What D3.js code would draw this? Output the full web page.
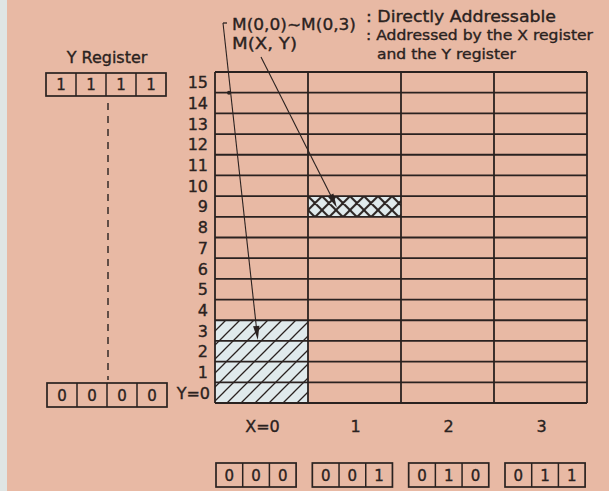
<!DOCTYPE html>
<html><head><meta charset="utf-8">
<script src="https://cdn.jsdelivr.net/npm/d3@7"></script>
<style>html,body{margin:0;padding:0;background:#e8b9a4;}svg{display:block;}text{stroke:#2a2220;stroke-width:0.35px;}</style>
</head><body>
<svg id="c" width="609" height="491"></svg>
<script>
// ---- data ----
const yLabels = ["Y=0","1","2","3","4","5","6","7","8","9","10","11","12","13","14","15"];
const xLabels = ["X=0","1","2","3"];
const xCodes = ["000","001","010","011"];
const yRegTop = ["1","1","1","1"];
const yRegBottom = ["0","0","0","0"];
const directCells = [{x:0,y:0},{x:0,y:1},{x:0,y:2},{x:0,y:3}];
const indirectCells = [{x:1,y:9}];
const legendMarks = ["M(0,0)~M(0,3)", "M(X, Y)"];
const legendText = [[": Directly Addressable"], [": Addressed by the X register", "and the Y register"]];
// arrow targets in data units (column, row)
const arrowTargets = [{x:0.46,y:3.05},{x:1.31,y:9.45}];

// ---- drawing ----
const svg = d3.select("#c");
const ink = "#2a2220";
const font = "DejaVu Sans";
svg.append("rect").attr("width",609).attr("height",491).attr("fill","#e8b9a4");
svg.append("rect").attr("width",7).attr("height",491).attr("fill","#dfe5e4");

const x = d3.scaleLinear().domain([0,4]).range([215,587]);
const y = d3.scaleLinear().domain([0,16]).range([403,72]);

const defs = svg.append("defs");
const p1 = defs.append("pattern").attr("id","diag").attr("patternUnits","userSpaceOnUse")
  .attr("width",14).attr("height",14);
p1.append("rect").attr("width",14).attr("height",14).attr("fill","#e0eaec");
p1.append("path").attr("d","M0,14L14,0M-3.5,3.5L3.5,-3.5M10.5,17.5L17.5,10.5")
  .attr("stroke",ink).attr("stroke-width",1.3);
const p2 = defs.append("pattern").attr("id","cross").attr("patternUnits","userSpaceOnUse")
  .attr("width",14).attr("height",14).attr("x",x(1)).attr("y",y(10));
p2.append("rect").attr("width",14).attr("height",14).attr("fill","#e0eaec");
p2.append("path").attr("d","M0,14L14,0M-3.5,3.5L3.5,-3.5M10.5,17.5L17.5,10.5M0,0L14,14M-3.5,10.5L3.5,17.5M10.5,-3.5L17.5,3.5")
  .attr("stroke",ink).attr("stroke-width",2);

const rowH = y(0)-y(1), colW = x(1)-x(0);
svg.selectAll("rect.dc").data(directCells).join("rect").attr("class","dc")
  .attr("x",d=>x(d.x)).attr("y",d=>y(d.y+1)).attr("width",colW).attr("height",rowH)
  .attr("fill","url(#diag)");
svg.selectAll("rect.ic").data(indirectCells).join("rect").attr("class","ic")
  .attr("x",d=>x(d.x)).attr("y",d=>y(d.y+1)).attr("width",colW).attr("height",rowH)
  .attr("fill","url(#cross)");

// grid
const g = svg.append("g").attr("stroke",ink).attr("stroke-width",1.8);
g.selectAll("line.h").data(d3.range(17)).join("line")
  .attr("x1",x(0)).attr("x2",x(4)).attr("y1",d=>y(d)).attr("y2",d=>y(d));
g.selectAll("line.v").data(d3.range(5)).join("line")
  .attr("x1",d=>x(d)).attr("x2",d=>x(d)).attr("y1",y(0)).attr("y2",y(16));

// y labels
svg.selectAll("text.yl").data(yLabels).join("text")
  .attr("x",(d,i)=>i===0?210:208).attr("y",(d,i)=>y(i+0.5)+6)
  .attr("text-anchor","end").attr("font-family",font).attr("font-size",16).attr("fill",ink)
  .text(d=>d);
// x labels
svg.selectAll("text.xl").data(xLabels).join("text")
  .attr("x",(d,i)=>x(i+0.5)+1).attr("y",432)
  .attr("text-anchor","middle").attr("font-family",font).attr("font-size",16).attr("fill",ink)
  .text(d=>d);

// register boxes
function regBox(bits, x0, y0, cw, h, fs){
  const gg = svg.append("g");
  gg.append("rect").attr("x",x0).attr("y",y0).attr("width",cw*bits.length).attr("height",h)
    .attr("fill","none").attr("stroke",ink).attr("stroke-width",1.7);
  gg.selectAll("line").data(d3.range(1,bits.length)).join("line")
    .attr("x1",i=>x0+i*cw).attr("x2",i=>x0+i*cw).attr("y1",y0).attr("y2",y0+h)
    .attr("stroke",ink).attr("stroke-width",1.5);
  gg.selectAll("text").data(bits).join("text")
    .attr("x",(d,i)=>x0+(i+0.5)*cw).attr("y",y0+h/2+5.5).attr("text-anchor","middle")
    .attr("font-family",font).attr("font-size",15).attr("fill",ink).text(d=>d);
}
const bx = d3.scaleLinear().domain([0,3]).range([216,505]);
xCodes.forEach((c,i)=>regBox(c.split(""), bx(i), 463, 26.7, 24, 15));
regBox(yRegTop, 46, 73, 30, 23, 15);
regBox(yRegBottom, 47, 383, 30, 24, 15);

svg.append("text").attr("x",107).attr("y",63).attr("text-anchor","middle")
  .attr("font-family",font).attr("font-size",16).attr("fill",ink).text("Y Register");
svg.append("line").attr("x1",108).attr("x2",108).attr("y1",103).attr("y2",380)
  .attr("stroke",ink).attr("stroke-width",1.4).attr("stroke-dasharray","7,6");

// legend text
svg.append("text").attr("x",232).attr("y",30).attr("font-family",font).attr("font-size",16.5)
  .attr("fill",ink).attr("textLength",124).attr("lengthAdjust","spacingAndGlyphs").text(legendMarks[0]);
svg.append("text").attr("x",232).attr("y",49).attr("font-family",font).attr("font-size",16.5)
  .attr("fill",ink).attr("textLength",65).attr("lengthAdjust","spacingAndGlyphs").text(legendMarks[1]);
svg.append("text").attr("x",366).attr("y",22).attr("font-family",font).attr("font-size",15.5)
  .attr("fill",ink).attr("textLength",190).attr("lengthAdjust","spacingAndGlyphs").text(legendText[0][0]);
svg.append("text").attr("x",366).attr("y",40).attr("font-family",font).attr("font-size",14.5)
  .attr("fill",ink).attr("textLength",227).attr("lengthAdjust","spacingAndGlyphs").text(legendText[1][0]);
svg.append("text").attr("x",377).attr("y",59).attr("font-family",font).attr("font-size",14.5)
  .attr("fill",ink).attr("textLength",139).attr("lengthAdjust","spacingAndGlyphs").text(legendText[1][1]);

// arrows
function arrow(x0,y0,x1,y1){
  const ang = Math.atan2(y1-y0,x1-x0), L=14, W=3.2;
  svg.append("line").attr("x1",x0).attr("y1",y0).attr("x2",x1-Math.cos(ang)*L*0.7).attr("y2",y1-Math.sin(ang)*L*0.7)
    .attr("stroke",ink).attr("stroke-width",1.1);
  const bxp = x1-Math.cos(ang)*L, byp = y1-Math.sin(ang)*L;
  const nx = -Math.sin(ang)*W, ny = Math.cos(ang)*W;
  svg.append("path").attr("d",`M${x1},${y1}L${bxp+nx},${byp+ny}L${bxp-nx},${byp-ny}Z`).attr("fill",ink);
}
svg.append("path").attr("d","M227,23L223,23").attr("stroke",ink).attr("stroke-width",1.3);
arrow(223,23,x(arrowTargets[0].x),y(arrowTargets[0].y));
arrow(261,57,x(arrowTargets[1].x),y(arrowTargets[1].y));
svg.append("circle").attr("cx",229).attr("cy",y(15)).attr("r",2).attr("fill",ink);
</script>
</body></html>
